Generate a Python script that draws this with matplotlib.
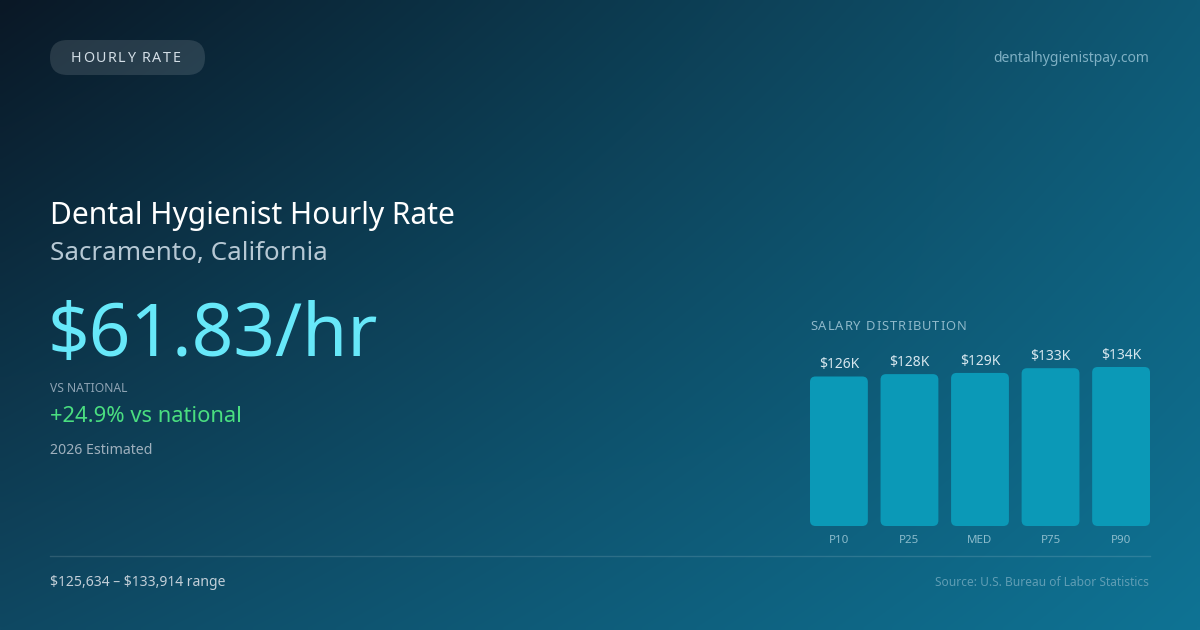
import numpy as np
import matplotlib.pyplot as plt
from matplotlib.patches import FancyBboxPatch
from matplotlib.colors import to_rgb

plt.rcParams['font.family'] = ['Noto Sans', 'DejaVu Sans']
plt.rcParams['text.parse_math'] = False

# data
categories = ['P10', 'P25', 'MED', 'P75', 'P90']
salaries_k = [126, 128, 129, 133, 134]
value_labels = ['$126K', '$128K', '$129K', '$133K', '$134K']

badge_text = 'HOURLY RATE'
site_text = 'dentalhygienistpay.com'
title_text = 'Dental Hygienist Hourly Rate'
place_text = 'Sacramento, California'
rate_text = '$61.83/hr'
vs_label = 'VS NATIONAL'
vs_text = '+24.9% vs national'
est_text = '2026 Estimated'
range_text = '$125,634 \u2013 $133,914 range'
source_text = 'Source: U.S. Bureau of Labor Statistics'
dist_title = 'SALARY DISTRIBUTION'

W, H = 1200, 630
fig = plt.figure(figsize=(W / 100, H / 100), dpi=100)

# background gradient (bilinear between corner colours)
bg = fig.add_axes([0, 0, 1, 1])
tl, tr = np.array(to_rgb('#0a1826')), np.array(to_rgb('#0f5a76'))
bl, br = np.array(to_rgb('#0f4862')), np.array(to_rgb('#0e7394'))
u = np.linspace(0, 1, 240)[None, :, None]
v = np.linspace(0, 1, 126)[:, None, None]
img = (1 - v) * ((1 - u) * tl + u * tr) + v * ((1 - u) * bl + u * br)
bg.imshow(img, extent=[0, W, H, 0], aspect='auto', interpolation='bilinear')
bg.set_xlim(0, W)
bg.set_ylim(H, 0)
bg.axis('off')


def spaced(ax, x, y, s, spacing, **kw):
    # draw text with letter spacing, one glyph at a time
    r = fig.canvas.get_renderer()
    for ch in s:
        t = ax.text(x, y, ch, **kw)
        w = t.get_window_extent(r).width
        x += w + spacing


# badge
bg.add_patch(FancyBboxPatch((50, 40), 155, 35,
                            boxstyle='round,pad=0,rounding_size=17.5',
                            fc='#ffffff', alpha=0.12, ec='none'))
spaced(bg, 71, 58, badge_text, 1.5, fontsize=10.3, color='#d3dee6', va='center')

bg.text(1149, 58, site_text, fontsize=10, color='#7fb0c4', ha='right', va='center')

bg.text(50, 224, title_text, fontsize=21.6, color='#ffffff', va='baseline')
bg.text(50, 260, place_text, fontsize=18.7, color='#b6c8d4', va='baseline')
bg.text(48, 356, rate_text, fontsize=52.5, color='#67e8f9', va='baseline')
bg.text(50, 392, vs_label, fontsize=8.7, color='#8ea3b3', va='baseline')
bg.text(50, 421.5, vs_text, fontsize=15.8, color='#4ade80', va='baseline')
bg.text(50, 454, est_text, fontsize=10.2, color='#9fb0bd', va='baseline')

bg.plot([50, 1150], [556, 556], color='#ffffff', alpha=0.13, lw=1)
bg.text(50, 586.5, range_text, fontsize=10.05, color='#c3cfd8', va='baseline')
bg.text(1149, 586, source_text, fontsize=8.6, color='#5f9db4', ha='right', va='baseline')

spaced(bg, 810, 330, dist_title, 1.0, fontsize=9.3, color='#8fb9ca', va='baseline')

# bar chart
ax = fig.add_axes([810 / W, (H - 526) / H, 340 / W, 159 / H])
ax.set_xlim(-0.41, 4.41)
ax.set_ylim(0, max(salaries_k))
ax.axis('off')
ax.patch.set_alpha(0)
x = np.arange(len(categories))
bars = ax.bar(x, salaries_k, width=0.82, color='none')

px_x = ax.transData.transform((1, 0))[0] - ax.transData.transform((0, 0))[0]
px_y = ax.transData.transform((0, 1))[1] - ax.transData.transform((0, 0))[1]
rad = 5.5 / px_x
for b, lab, cat in zip(bars, value_labels, categories):
    bx, by = b.get_x(), b.get_y()
    bw, bh = b.get_width(), b.get_height()
    ax.add_patch(FancyBboxPatch((bx, by), bw, bh,
                                boxstyle=f'round,pad=0,rounding_size={rad}',
                                mutation_aspect=px_x / px_y,
                                fc='#0b99b7', ec='none'))
    ax.annotate(lab, (bx + bw / 2, bh), xytext=(0, 8), textcoords='offset pixels',
                ha='center', va='baseline', fontsize=10, color='#d6e6ee')
    ax.annotate(cat, (bx + bw / 2, 0), xytext=(0, -9), textcoords='offset pixels',
                ha='center', va='top', fontsize=8.3, color='#8cbccc',
                annotation_clip=False)

fig.savefig('out.png', dpi=100)
